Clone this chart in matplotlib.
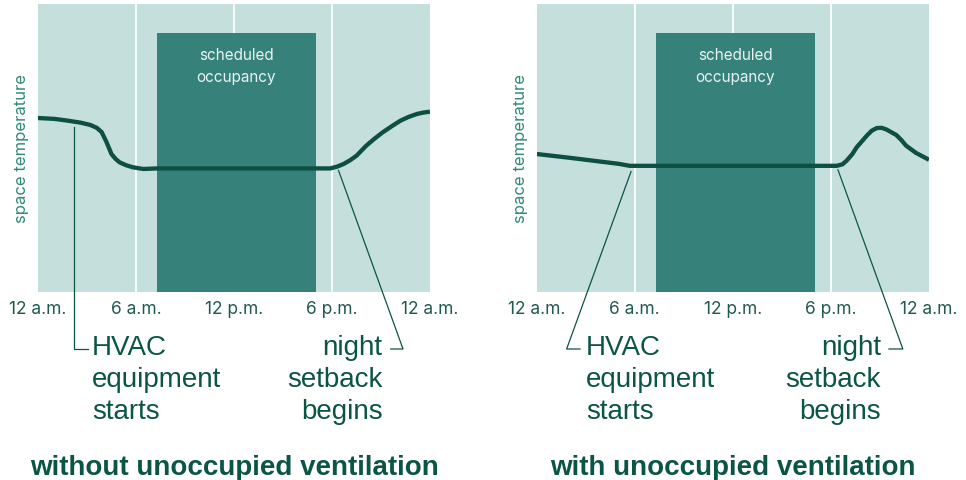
import numpy as np
import matplotlib.pyplot as plt
from matplotlib.patches import Rectangle

# hours of the day and tick labels
tick_hours = [0, 6, 12, 18, 24]
tick_labels = ['12 a.m.', '6 a.m.', '12 p.m.', '6 p.m.', '12 a.m.']

# scheduled occupancy window (hours) and its height (0-100 scale)
occ_start, occ_end, occ_top = 7.3, 17.0, 90

# space temperature (0-100 scale)
hours_without = [0, 1.0, 1.8, 2.6, 3.2, 3.6, 3.9, 4.2, 4.5, 4.75, 5.0, 5.4, 5.8,
                 6.45, 7.3, 12, 17.0, 17.9, 18.3, 18.7, 19.1, 19.5, 20.1, 20.6,
                 21.1, 21.7, 22.2, 22.7, 23.2, 23.6, 24]
temp_without = [60.4, 60.1, 59.5, 58.8, 58.0, 57.0, 55.5, 52.0, 47.9, 46.2, 45.0,
                44.0, 43.3, 42.7, 42.9, 42.9, 42.9, 42.9, 43.5, 44.4, 45.7, 47.3,
                50.8, 53.2, 55.4, 57.7, 59.5, 60.8, 61.8, 62.3, 62.6]

hours_with = [0, 2.0, 4.0, 5.0, 5.7, 6.2, 12, 18.35, 18.7, 18.96, 19.3, 19.57,
              20.2, 20.5, 20.8, 21.1, 21.4, 22.0, 22.3, 22.6, 23.2, 24]
temp_with = [47.9, 46.6, 45.2, 44.5, 43.8, 43.8, 43.8, 43.8, 44.3, 45.6, 47.8,
             50.2, 54.3, 56.0, 56.9, 57.0, 56.4, 54.5, 52.8, 50.8, 48.3, 45.9]

# callouts: (hour on curve, elbow hour, end of short tick, text hour)
hvac_without = (2.2, 2.2, 3.05, 3.3)
night_without = (18.4, 22.35, 21.6, 21.1)
hvac_with = (5.77, 1.83, 2.65, 3.0)
night_with = (18.43, 22.4, 21.55, 21.05)

titles = ['without unoccupied ventilation', 'with unoccupied ventilation']

bg = '#c5e0dc'
box = '#36827a'
curve = '#0d4f42'
txt = '#0b5546'
ylab = '#2e8a76'

fig = plt.figure(figsize=(9.66, 4.81), dpi=100)
ax1 = fig.add_axes([0.0393, 0.3909, 0.4058, 0.5988])
ax2 = fig.add_axes([0.5556, 0.3909, 0.4061, 0.5988])

elbow_y = -19.8   # data y of the callout elbow (below the axes)
text_top = -14.6  # data y of the top of the callout text


def panel(ax, hours, temps, title):
    ax.set_xlim(0, 24)
    ax.set_ylim(0, 100)
    ax.set_facecolor(bg)
    for s in ax.spines.values():
        s.set_visible(False)
    ax.set_yticks([])
    ax.set_xticks(tick_hours)
    ax.set_xticklabels(tick_labels, fontfamily='Inter', fontsize=12.5, color='#1f5a4e')
    ax.tick_params(axis='x', length=0, pad=6)
    for h in tick_hours[1:-1]:
        ax.axvline(h, color='white', lw=1.3, zorder=1)
    ax.add_patch(Rectangle((occ_start, 0), occ_end - occ_start, occ_top,
                           facecolor=box, edgecolor='none', zorder=2))
    ax.text((occ_start + occ_end) / 2, 78.6, 'scheduled\noccupancy', ha='center',
            va='center', color='#e8f3f1', fontfamily='Inter', fontsize=11,
            linespacing=1.65, zorder=3)
    ax.plot(hours, temps, color=curve, lw=3.1, solid_capstyle='butt',
            solid_joinstyle='round', zorder=4)
    ax.text(-0.041, 0.5, 'space temperature', transform=ax.transAxes,
            rotation=90, ha='center', va='center', color=ylab,
            fontfamily='Inter', fontsize=12)
    ax.text(0.5, -0.607, title, transform=ax.transAxes, ha='center',
            va='center', color=txt, fontfamily='Liberation Sans',
            fontweight='bold', fontsize=20)


def callouts(ax, hours, temps, hv, nt):
    # HVAC starts: curve point -> elbow below axes -> short horizontal tick
    hy = np.interp(hv[0], hours, temps) - 2
    ax.plot([hv[0], hv[1], hv[2]], [hy, elbow_y, elbow_y], color=txt, lw=0.9,
            clip_on=False, zorder=5)
    ax.text(hv[3], text_top, 'HVAC\nequipment\nstarts', ha='left', va='top',
            color=txt, fontfamily='Liberation Sans', fontsize=20,
            linespacing=1.3, clip_on=False)
    # night setback begins
    ny = np.interp(nt[0], hours, temps) - 1.5
    ax.plot([nt[0], nt[1], nt[2]], [ny, elbow_y, elbow_y], color=txt, lw=0.9,
            clip_on=False, zorder=5)
    ax.text(nt[3], text_top, 'night\nsetback\nbegins', ha='right', va='top',
            color=txt, fontfamily='Liberation Sans', fontsize=20,
            linespacing=1.3, clip_on=False)


panel(ax1, hours_without, temp_without, titles[0])
panel(ax2, hours_with, temp_with, titles[1])
callouts(ax1, hours_without, temp_without, hvac_without, night_without)
callouts(ax2, hours_with, temp_with, hvac_with, night_with)

fig.savefig('out.png', dpi=100, facecolor='white')
